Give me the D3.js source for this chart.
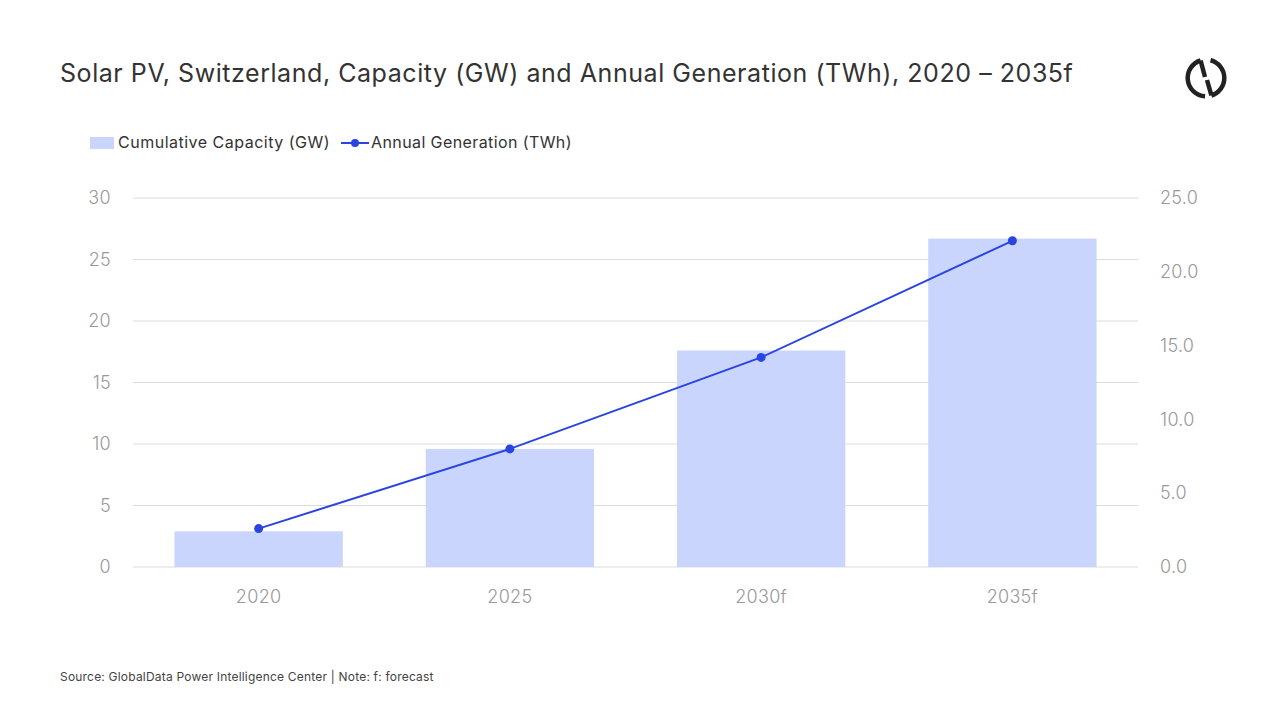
<!DOCTYPE html>
<html>
<head>
<meta charset="utf-8">
<script src="https://cdn.jsdelivr.net/npm/d3@7"></script>
<style>
  body { margin: 0; background: #fff; }
  svg text { font-family: "Inter", "Noto Sans", sans-serif; }
</style>
</head>
<body>
<div id="chart"></div>
<script>
// DATA ------------------------------
const years = ["2020", "2025", "2030f", "2035f"];
const capacity = [2.9, 9.6, 17.6, 26.7];      // GW, left axis
const generation = [2.6, 8.0, 14.2, 22.1];    // TWh, right axis
const leftTicks = [0, 5, 10, 15, 20, 25, 30];
const rightTicks = [0, 5, 10, 15, 20, 25];

const W = 1280, H = 720;
const margin = ({top: 198, right: 142, bottom: 153, left: 133});
const width = W - margin.left - margin.right;
const height = H - margin.top - margin.bottom;

let svg = d3.select('#chart').append('svg')
  .attr('width', W)
  .attr('height', H);

// title
svg.append("text")
  .attr("x", 60).attr("y", 82)
  .attr("font-size", 25)
  .attr("letter-spacing", 0.55)
  .attr("fill", "#333")
  .text("Solar PV, Switzerland, Capacity (GW) and Annual Generation (TWh), 2020 \u2013 2035f");

// logo
let logo = svg.append("g")
  .attr("transform", "translate(1206,78)")
  .attr("fill", "none")
  .attr("stroke", "#222")
  .attr("stroke-width", 4.5);
const R = 18.3;
logo.append("path").attr("d", d3.arc()({innerRadius: R, outerRadius: R, startAngle: -0.3, endAngle: -Math.PI + 0.05}));
logo.append("path").attr("d", "M" + (R * Math.sin(-0.3)) + "," + (-R * Math.cos(-0.3)) + " L-1,-1");
logo.append("path").attr("d", d3.arc()({innerRadius: R, outerRadius: R, startAngle: 0.25, endAngle: Math.PI - 0.3}));
logo.append("path").attr("d", "M1,2 L" + (R * Math.sin(Math.PI - 0.3)) + "," + (-R * Math.cos(Math.PI - 0.3)));

// legend
let legend = svg.append("g");
legend.append("rect").attr("x", 90).attr("y", 137).attr("width", 24).attr("height", 12).attr("fill", "#c9d5fd");
legend.append("text").attr("x", 118).attr("y", 148).attr("font-size", 16).attr("letter-spacing", 0.5).attr("fill", "#333").text("Cumulative Capacity (GW)");
legend.append("line").attr("x1", 341).attr("x2", 369).attr("y1", 143).attr("y2", 143).attr("stroke", "#2a44e0").attr("stroke-width", 2);
legend.append("circle").attr("cx", 355).attr("cy", 143).attr("r", 4).attr("fill", "#2a44e0");
legend.append("text").attr("x", 371).attr("y", 148).attr("font-size", 16).attr("letter-spacing", 0.4).attr("fill", "#333").text("Annual Generation (TWh)");

let g = svg.append("g").attr("transform", "translate(" + margin.left + "," + margin.top + ")");

let xScale = d3.scaleBand().domain(years).range([0, width]).paddingInner(0.33).paddingOuter(0.165);
let yLeft = d3.scaleLinear().domain([0, 30]).range([height, 0]);
let yRight = d3.scaleLinear().domain([0, 25]).range([height, 0]);

// gridlines
g.selectAll(".grid").data(leftTicks).enter().append("line")
  .attr("x1", 0).attr("x2", width)
  .attr("y1", d => yLeft(d)).attr("y2", d => yLeft(d))
  .attr("stroke", "#dcdcdc").attr("stroke-width", 1);

// bars
g.selectAll(".bar").data(capacity).enter().append("rect")
  .attr("class", "bar")
  .attr("x", (d, i) => xScale(years[i]))
  .attr("y", d => yLeft(d))
  .attr("width", xScale.bandwidth())
  .attr("height", d => height - yLeft(d))
  .attr("fill", "#c9d5fd");

// line
let line = d3.line()
  .x((d, i) => xScale(years[i]) + xScale.bandwidth() / 2)
  .y(d => yRight(d));
g.append("path").datum(generation)
  .attr("d", line)
  .attr("fill", "none")
  .attr("stroke", "#2a44e0")
  .attr("stroke-width", 2);
g.selectAll(".dot").data(generation).enter().append("circle")
  .attr("cx", (d, i) => xScale(years[i]) + xScale.bandwidth() / 2)
  .attr("cy", d => yRight(d))
  .attr("r", 4.5)
  .attr("fill", "#2a44e0");

// axes
let xAxis = d3.axisBottom(xScale).tickSize(0).tickPadding(23);
let yAxisL = d3.axisLeft(yLeft).tickValues(leftTicks).tickSize(0).tickPadding(22);
let yAxisR = d3.axisRight(yRight).tickValues(rightTicks).tickSize(0).tickPadding(22).tickFormat(d3.format(".1f"));

function style(sel) {
  sel.select(".domain").remove();
  sel.selectAll("text").attr("font-size", 18).attr("fill", "#999")
    .attr("font-weight", 300).attr("letter-spacing", 0.3)
    .style("font-family", "Inter, 'Noto Sans', sans-serif");
}
g.append("g").attr("transform", "translate(0," + height + ")").call(xAxis).call(style);
g.append("g").call(yAxisL).call(style);
g.append("g").attr("transform", "translate(" + width + ",0)").call(yAxisR).call(style);

// footer
svg.append("text")
  .attr("x", 60).attr("y", 681)
  .attr("font-size", 12)
  .attr("letter-spacing", 0.2)
  .attr("fill", "#444")
  .text("Source: GlobalData Power Intelligence Center | Note: f: forecast");
</script>
</body>
</html>
